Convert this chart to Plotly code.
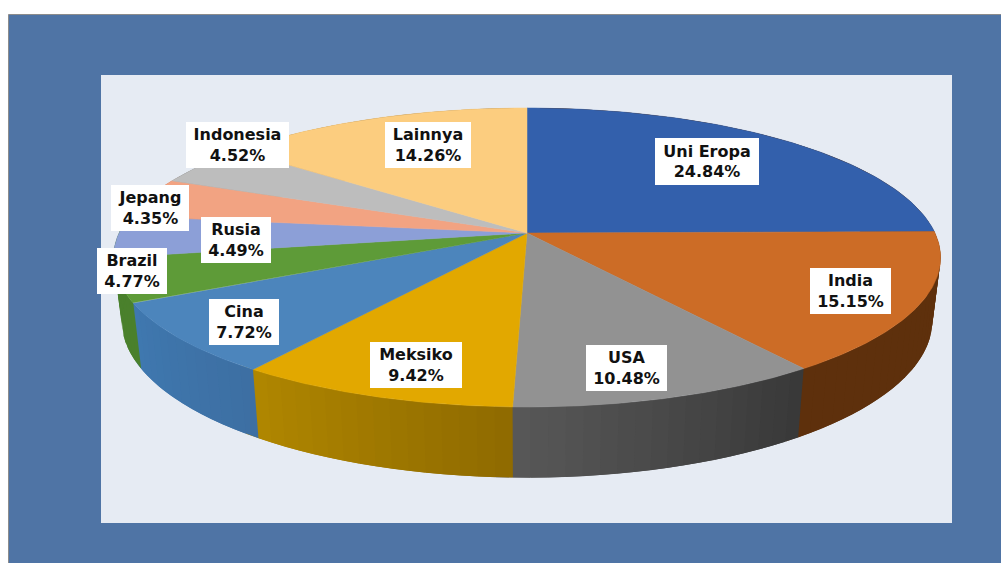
import numpy as np
import plotly.graph_objects as go

categories = ["Uni Eropa", "India", "USA", "Meksiko", "Cina", "Brazil", "Rusia", "Jepang", "Indonesia", "Lainnya"]
values = [24.84, 15.15, 10.48, 9.42, 7.72, 4.77, 4.49, 4.35, 4.52, 14.26]
top_colors = ["#3360AC", "#CC6C26", "#929292", "#E2A800", "#4C85BC", "#5E9B38", "#8C9FD7", "#F2A382", "#BDBDBD", "#FCCD7F"]
side_start = ["#5E300C", "#5E300C", "#383838", "#8F6A00", "#3D6FA2", "#4A802C", "#4A802C", "#A87056", "#868686", "#B08F58"]
side_end = ["#5E300C", "#5E300C", "#585858", "#B08700", "#3F78B0", "#4A802C", "#4A802C", "#A87056", "#868686", "#B08F58"]
# label box centres and sizes, in page pixels
label_boxes = [(707, 161, 104, 47), (850.5, 291, 81, 46), (626.5, 368, 81, 46), (416, 365, 92, 46), (244, 322, 70, 46),
               (132, 271, 70, 46), (236, 240, 70, 46), (150, 208, 78, 46), (237.5, 145, 103, 46), (428, 145, 86, 46)]

CX, CY, A, B, K = 527.0, 233.0, 408.0, 145.5, 0.1638
S, H = 0.98, 62.0


def project(theta, bottom=False):
    u, v = np.sin(theta), np.cos(theta)
    w = 1 + K * v
    scale = S if bottom else 1.0
    return CX + scale * A * u / w, CY - scale * B * v / w + (H / w if bottom else 0.0)


def hex_mix(a, b, t):
    ca = [int(a[i:i + 2], 16) for i in (1, 3, 5)]
    cb = [int(b[i:i + 2], 16) for i in (1, 3, 5)]
    return "rgb(%d,%d,%d)" % tuple(round(x + (y - x) * t) for x, y in zip(ca, cb))


edges = np.radians(np.concatenate([[0.0], np.cumsum(values)]) * 360.0 / sum(values))
fig = go.Figure()

# side wall: each strip runs past its end so that the next one paints over the seam
for i in range(len(values)):
    t0, t1 = edges[i], edges[i + 1]
    n = max(2, int(np.degrees(t1 - t0) / 2))
    grid = np.linspace(t0, t1, n + 1)
    step = grid[1] - grid[0]
    for j in range(n):
        a = np.linspace(grid[j], grid[j + 1] + step, 6)
        xt, yt = project(a)
        xb, yb = project(a[::-1], bottom=True)
        col = hex_mix(side_start[i], side_end[i], (j + 0.5) / n)
        fig.add_trace(go.Scatter(x=np.concatenate([xt, xb]), y=np.concatenate([yt, yb]), mode="lines", fill="toself",
                                 fillcolor=col, line=dict(width=0), hoverinfo="skip", showlegend=False))

# top face
for i, name in enumerate(categories):
    a = np.linspace(edges[i], edges[i + 1], 80)
    xs, ys = project(a)
    fig.add_trace(go.Scatter(x=np.concatenate([[CX], xs, [CX]]), y=np.concatenate([[CY], ys, [CY]]), mode="lines",
                             fill="toself", fillcolor=top_colors[i], line=dict(color=top_colors[i], width=0.5),
                             name=name, hoverinfo="skip", showlegend=False))

annotations = [dict(x=bx, y=by, xref="x", yref="y", text=f"{name}<br>{val:.2f}%", showarrow=False, width=bw, height=bh,
                    bgcolor="white", borderpad=0, borderwidth=0, align="center", valign="middle",
                    font=dict(family="DejaVu Sans", size=16, color="#111111", weight="bold"))
               for name, val, (bx, by, bw, bh) in zip(categories, values, label_boxes)]

fig.update_layout(
    width=1001, height=563, margin=dict(l=0, r=0, t=0, b=0), paper_bgcolor="white", plot_bgcolor="white",
    xaxis=dict(range=[0, 1001], visible=False, fixedrange=True), yaxis=dict(range=[563, 0], visible=False, fixedrange=True),
    showlegend=False, annotations=annotations,
    shapes=[
        dict(type="rect", layer="below", x0=8.5, x1=1002, y0=14.5, y1=564, fillcolor="#4F74A5", line=dict(color="#8C8C8C", width=1)),
        dict(type="rect", layer="below", x0=101, x1=952, y0=75, y1=523, fillcolor="#E6EBF3", line=dict(width=0)),
    ],
)
fig.write_html("out.html", config=dict(displayModeBar=False),
               post_script="document.body.style.margin='0';document.body.style.overflow='hidden';")
